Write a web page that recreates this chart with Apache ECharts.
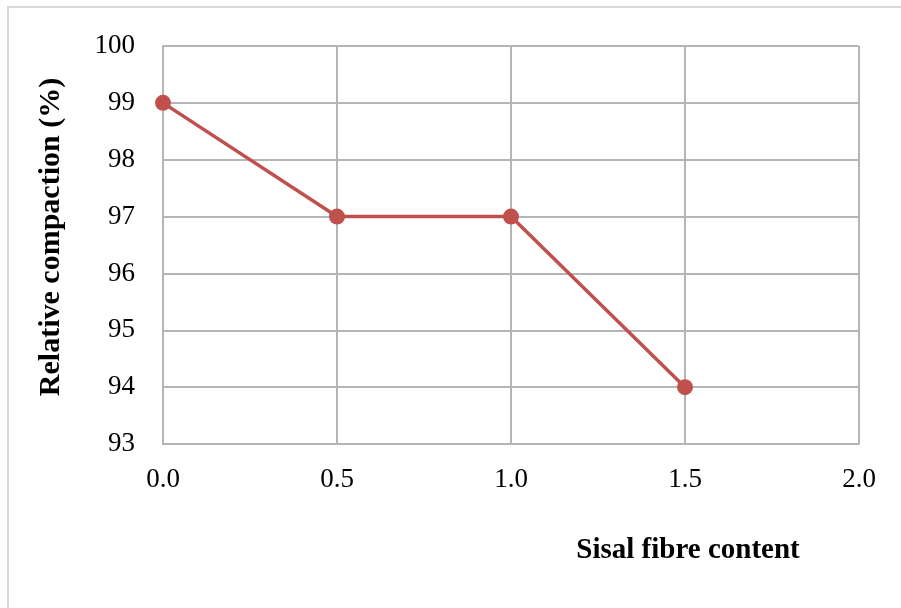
<!DOCTYPE html>
<html>
<head>
<meta charset="utf-8">
<script src="https://cdn.jsdelivr.net/npm/echarts@6/dist/echarts.min.js"></script>
<style>
  html, body { margin: 0; padding: 0; background: #fff; }
  #chart { width: 901px; height: 608px; }
</style>
</head>
<body>
<div id="chart"></div>
<script>
// fibre content (%) and relative compaction (%)
const fibre = [0.0, 0.5, 1.0, 1.5];
const compaction = [99, 97, 97, 94];
const yTitle = 'Relative compaction (%)';
const xTitle = 'Sisal fibre content';

const chart = echarts.init(document.getElementById('chart'));
const font = '"Liberation Serif", "Times New Roman", serif';
const gridColor = '#b5b5b5';

const option = {
  animation: false,
  grid: { left: 163, top: 46, width: 696, height: 398 },
  xAxis: {
    type: 'value',
    min: 0,
    max: 2,
    interval: 0.5,
    axisLine: { show: true, lineStyle: { color: gridColor, width: 2 } },
    axisTick: { show: false },
    splitLine: { show: true, lineStyle: { color: gridColor, width: 2 } },
    axisLabel: {
      color: '#000',
      fontFamily: font,
      fontSize: 27,
      margin: 22,
      formatter: v => v.toFixed(1)
    }
  },
  yAxis: {
    type: 'value',
    min: 93,
    max: 100,
    interval: 1,
    axisLine: { show: true, lineStyle: { color: gridColor, width: 2 } },
    axisTick: { show: false },
    splitLine: { show: true, lineStyle: { color: gridColor, width: 2 } },
    axisLabel: {
      color: '#000',
      fontFamily: font,
      fontSize: 27,
      margin: 28
    }
  },
  graphic: [
    {
      type: 'rect',
      shape: { x: 8, y: 7, width: 1000, height: 1000 },
      style: { fill: 'none', stroke: '#d9d9d9', lineWidth: 2 },
      silent: true
    },
    {
      type: 'text',
      x: 51,
      y: 237,
      rotation: Math.PI / 2,
      style: {
        text: yTitle,
        font: 'bold 30px ' + font,
        fill: '#000',
        align: 'center',
        verticalAlign: 'middle'
      }
    },
    {
      type: 'text',
      x: 688,
      y: 551,
      style: {
        text: xTitle,
        font: 'bold 29px ' + font,
        fill: '#000',
        align: 'center',
        verticalAlign: 'middle'
      }
    }
  ],
  series: [{
    type: 'line',
    data: fibre.map((x, i) => [x, compaction[i]]),
    symbol: 'circle',
    symbolSize: 16,
    lineStyle: { color: '#c0504d', width: 3.5 },
    itemStyle: { color: '#c0504d' }
  }]
};

chart.setOption(option);
</script>
</body>
</html>
